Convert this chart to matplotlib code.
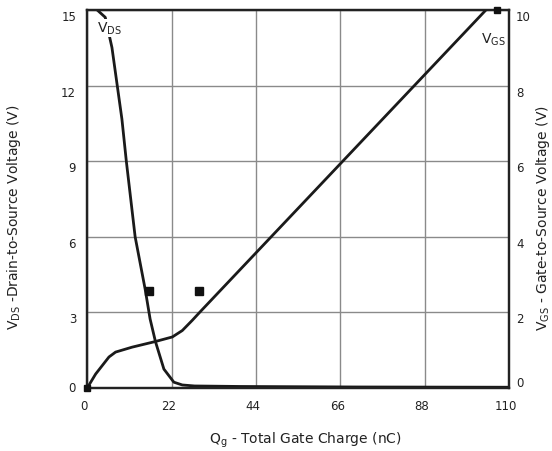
import matplotlib
matplotlib.use("Agg")
import matplotlib.pyplot as plt
from matplotlib.transforms import ScaledTranslation

plt.rcParams['font.family'] = ['DejaVu Sans']
plt.rcParams['mathtext.default'] = 'regular'

# ---- data ----
x_ticks = [0, 22, 44, 66, 88, 110]
left_ticks = [0, 3, 6, 9, 12, 15]
right_ticks = [0, 2, 4, 6, 8, 10]

vds_q = [2.6, 4.7, 6.45, 9.05, 10.2, 12.5, 15.1, 16.4, 17.8, 20.0, 22.6, 24.8, 28, 40, 70, 110]
vds_v = [15.0, 14.71, 13.51, 10.67, 9.0, 6.0, 3.93, 2.74, 1.84, 0.75, 0.23, 0.12, 0.08, 0.06, 0.04, 0.03]

vgs_q = [0, 2.2, 5.67, 7.4, 11.7, 17.8, 22.2, 24.8, 27.4, 29.5, 104]
vgs_v = [0, 0.37, 0.82, 0.95, 1.08, 1.23, 1.35, 1.52, 1.79, 2.02, 10.0]

mark_q = [16.0, 29.2]
mark_v = [3.86, 3.86]
end_q = [0, 107]
end_vgs = [0, 10]

fig = plt.figure(figsize=(5.52, 4.52), dpi=100)
ax = fig.add_axes([0.158, 0.1394, 0.764, 0.8363])
ax2 = ax.twinx()

ax.set_xlim(0, 110)
ax.set_ylim(0, 15)
ax2.set_ylim(0, 10)

ax.set_xticks(x_ticks)
ax.set_xticklabels([str(t) for t in x_ticks])
ax.set_yticks(left_ticks)
ax.set_yticklabels([str(t) for t in left_ticks])
ax2.set_yticks(right_ticks)
ax2.set_yticklabels([str(t) for t in right_ticks])

ax.grid(True, color='#8a8a8a', linewidth=1.0)
ax.set_axisbelow(True)

for a in (ax, ax2):
    for s in a.spines.values():
        s.set_linewidth(1.6)
        s.set_color('#222222')

ax.tick_params(axis='both', length=0, labelsize=8.5, colors='#222222')
ax.tick_params(axis='x', pad=8)
ax.tick_params(axis='y', pad=8)
ax2.tick_params(axis='y', length=0, labelsize=8.5, colors='#222222', pad=5)

ax.plot(vds_q, vds_v, color='#1a1a1a', linewidth=2.0, zorder=3, clip_on=True)
ax2.plot(vgs_q, vgs_v, color='#1a1a1a', linewidth=2.0, zorder=3)
ax.plot(mark_q, mark_v, linestyle='none', marker='s', markersize=5.5, color='#111111', zorder=4)
ax2.plot(end_q, end_vgs, linestyle='none', marker='s', markersize=4, color='#111111', zorder=4, clip_on=False)

ax.text(2.5, 14.62, 'V$_{DS}$', fontsize=10, color='#222222', ha='left', va='top',
        bbox=dict(facecolor='white', edgecolor='none', pad=0.5), zorder=5)
ax2.text(109.2, 9.23, 'V$_{GS}$', fontsize=10, color='#222222', ha='right', va='center', zorder=5)

# tick label offsets
def shift(lbl, dx, dy):
    lbl.set_transform(lbl.get_transform() + ScaledTranslation(dx / 100, dy / 100, fig.dpi_scale_trans))

for lbl in ax.get_xticklabels():
    shift(lbl, -3, 0)
for lbl, t in zip(ax.get_yticklabels(), left_ticks):
    shift(lbl, 0, 2 if t == 0 else -5)
for lbl, t in zip(ax2.get_yticklabels(), right_ticks):
    shift(lbl, 0, 7 if t == 0 else -5)

fig.text(14 / 552, 1 - 217 / 452, 'V$_{DS}$ -Drain-to-Source Voltage (V)', rotation=90,
         ha='center', va='center', fontsize=10, color='#222222')
fig.text(543 / 552, 1 - 218 / 452, 'V$_{GS}$ - Gate-to-Source Voltage (V)', rotation=90,
         ha='center', va='center', fontsize=10, color='#222222')
fig.text(305 / 552, 1 - 440 / 452, 'Q$_{g}$ - Total Gate Charge (nC)',
         ha='center', va='center', fontsize=10, color='#222222')

fig.savefig('out.png', dpi=100)
